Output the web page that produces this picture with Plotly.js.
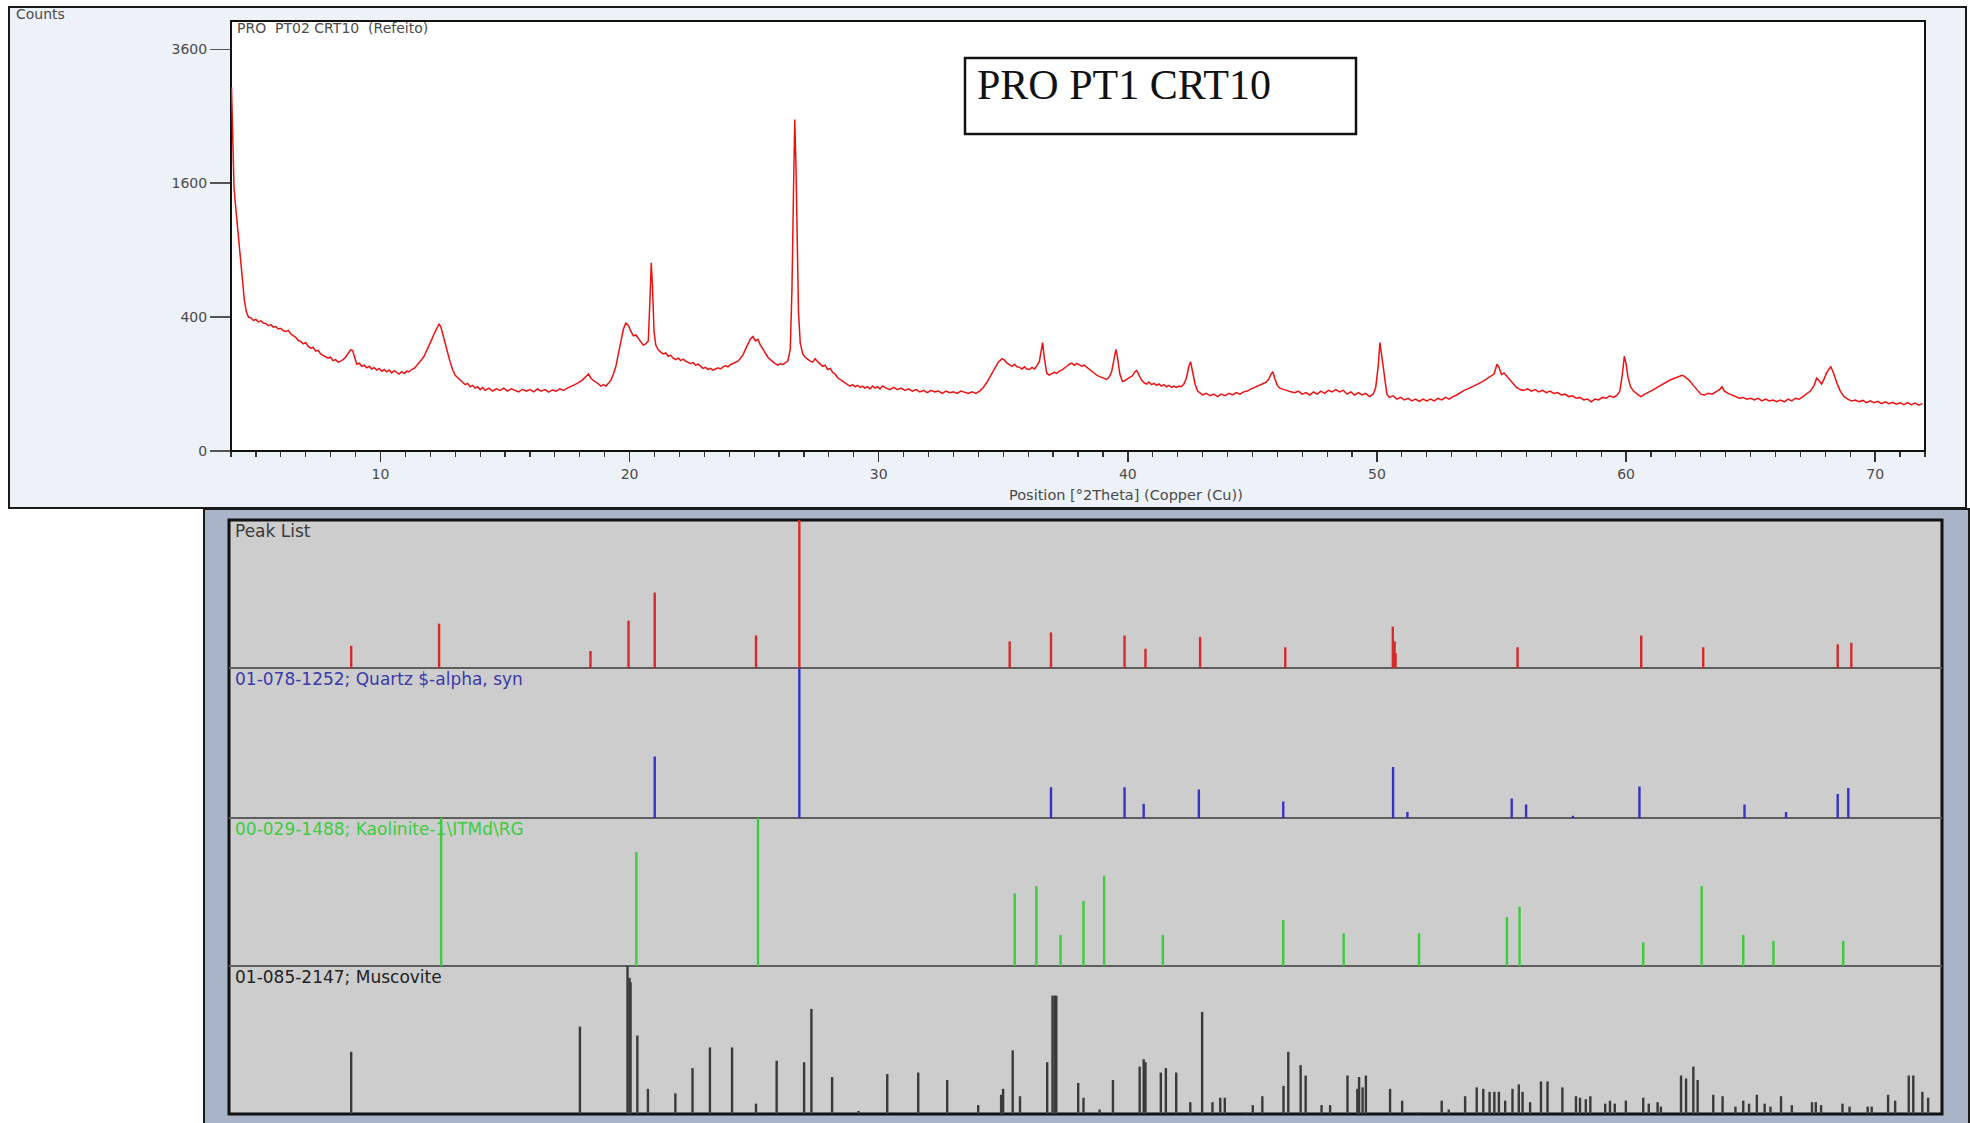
<!DOCTYPE html>
<html>
<head>
<meta charset="utf-8">
<script src="https://cdn.plot.ly/plotly-3.0.1.min.js"></script>
<style>html,body{margin:0;padding:0;background:#fff;}#chart{width:1970px;height:1123px;}</style>
</head>
<body>
<div id="chart"></div>
<script>
// ---------------- DATA ----------------
// Diffractogram: position [°2Theta] and counts
const twoTheta = [4.02,4.05,4.08,4.12,4.18,4.25,4.32,4.40,4.47,4.54,4.62,4.70,4.80,4.90,5.00,5.10,5.20,5.30,5.40,5.50,5.60,5.70,5.80,5.90,6.00,6.10,6.20,6.30,6.40,6.50,6.60,6.70,6.80,6.90,7.00,7.10,7.20,7.30,7.40,7.50,7.60,7.70,7.80,7.90,8.00,8.10,8.20,8.30,8.40,8.50,8.60,8.70,8.80,8.88,8.95,9.05,9.15,9.25,9.35,9.45,9.55,9.65,9.75,9.85,9.95,10.05,10.15,10.25,10.35,10.45,10.55,10.65,10.75,10.85,10.95,11.05,11.15,11.25,11.35,11.45,11.55,11.65,11.75,11.85,11.95,12.05,12.15,12.25,12.35,12.42,12.50,12.60,12.70,12.80,12.90,13.00,13.10,13.20,13.30,13.40,13.50,13.60,13.70,13.80,13.90,14.00,14.10,14.20,14.35,14.50,14.65,14.80,14.95,15.10,15.25,15.40,15.55,15.70,15.85,16.00,16.15,16.30,16.45,16.60,16.75,16.90,17.05,17.20,17.35,17.50,17.65,17.80,17.95,18.10,18.25,18.35,18.45,18.55,18.65,18.75,18.85,18.95,19.05,19.15,19.25,19.35,19.45,19.55,19.65,19.75,19.85,19.95,20.05,20.15,20.25,20.35,20.45,20.55,20.65,20.75,20.82,20.87,20.92,20.98,21.05,21.15,21.25,21.35,21.45,21.55,21.65,21.75,21.85,21.95,22.05,22.15,22.25,22.35,22.45,22.55,22.65,22.75,22.85,22.95,23.05,23.15,23.25,23.35,23.45,23.55,23.65,23.75,23.85,23.95,24.05,24.15,24.25,24.35,24.45,24.55,24.65,24.75,24.85,24.95,25.05,25.15,25.25,25.35,25.45,25.55,25.65,25.75,25.85,25.95,26.05,26.15,26.25,26.35,26.45,26.52,26.58,26.63,26.68,26.72,26.78,26.85,26.95,27.05,27.15,27.25,27.35,27.45,27.55,27.65,27.75,27.85,27.95,28.05,28.15,28.25,28.35,28.45,28.55,28.65,28.75,28.85,28.95,29.05,29.15,29.25,29.35,29.45,29.55,29.65,29.75,29.85,29.95,30.05,30.15,30.30,30.45,30.60,30.75,30.90,31.05,31.20,31.35,31.50,31.65,31.80,31.95,32.10,32.25,32.40,32.55,32.70,32.85,33.00,33.15,33.30,33.45,33.60,33.75,33.90,34.05,34.20,34.35,34.50,34.65,34.80,34.95,35.05,35.15,35.25,35.35,35.45,35.55,35.65,35.75,35.85,35.95,36.05,36.15,36.25,36.35,36.45,36.53,36.58,36.65,36.75,36.85,36.95,37.05,37.15,37.25,37.35,37.45,37.55,37.65,37.75,37.85,37.95,38.05,38.15,38.25,38.35,38.45,38.55,38.65,38.75,38.85,38.95,39.05,39.15,39.25,39.35,39.45,39.52,39.58,39.68,39.78,39.88,39.98,40.08,40.18,40.28,40.36,40.45,40.55,40.65,40.75,40.85,40.95,41.05,41.15,41.25,41.35,41.45,41.55,41.65,41.75,41.85,41.95,42.05,42.15,42.25,42.35,42.45,42.52,42.60,42.70,42.80,42.90,43.00,43.15,43.30,43.45,43.60,43.75,43.90,44.05,44.20,44.35,44.50,44.65,44.80,44.95,45.10,45.25,45.40,45.55,45.65,45.75,45.82,45.90,46.00,46.10,46.25,46.40,46.55,46.70,46.85,47.00,47.15,47.30,47.45,47.60,47.75,47.90,48.05,48.20,48.35,48.50,48.65,48.80,48.95,49.10,49.25,49.40,49.55,49.70,49.85,49.95,50.05,50.12,50.18,50.25,50.32,50.40,50.50,50.65,50.80,50.95,51.10,51.25,51.40,51.55,51.70,51.85,52.00,52.15,52.30,52.45,52.60,52.75,52.90,53.05,53.20,53.35,53.50,53.65,53.80,53.95,54.10,54.25,54.40,54.55,54.70,54.82,54.90,55.00,55.10,55.20,55.30,55.45,55.60,55.75,55.90,56.05,56.20,56.35,56.50,56.65,56.80,56.95,57.10,57.25,57.40,57.55,57.70,57.85,58.00,58.15,58.30,58.45,58.60,58.75,58.90,59.05,59.20,59.35,59.50,59.65,59.75,59.85,59.93,60.00,60.08,60.18,60.30,60.45,60.60,60.75,60.90,61.05,61.20,61.35,61.50,61.65,61.80,61.95,62.10,62.25,62.35,62.45,62.55,62.70,62.85,63.00,63.15,63.30,63.45,63.60,63.75,63.85,63.95,64.10,64.25,64.40,64.55,64.70,64.85,65.00,65.15,65.30,65.45,65.60,65.75,65.90,66.05,66.20,66.35,66.50,66.65,66.80,66.95,67.10,67.25,67.40,67.55,67.65,67.75,67.85,67.95,68.05,68.15,68.22,68.30,68.40,68.50,68.60,68.75,68.90,69.05,69.20,69.35,69.50,69.65,69.80,69.95,70.10,70.25,70.40,70.55,70.70,70.85,71.00,71.15,71.30,71.45,71.60,71.75,71.90];
const counts = [2950,2500,1900,1550,1350,1150,950,760,620,500,430,400,395,380,386,372,378,365,362,350,356,342,345,332,336,322,318,324,305,298,288,272,268,256,262,244,236,240,222,226,210,204,198,192,196,182,186,176,180,186,196,212,228,226,196,168,172,160,164,154,160,150,155,146,152,142,148,140,146,136,144,138,132,140,134,142,140,148,152,162,172,186,200,222,246,275,305,335,358,345,300,256,214,176,146,128,120,110,104,98,102,92,96,88,92,84,90,82,88,80,86,82,88,80,86,82,78,85,80,84,78,86,80,84,77,83,80,86,82,88,92,98,104,112,124,132,118,110,106,100,94,98,94,102,112,132,160,210,270,330,365,352,320,296,300,282,262,250,256,270,520,790,600,320,250,228,218,210,214,200,204,192,186,192,182,188,180,176,170,174,164,168,160,152,156,148,152,146,150,154,150,158,162,158,166,170,176,180,192,206,230,256,280,292,270,278,250,232,210,196,186,176,170,164,170,166,172,180,230,600,1500,2450,1800,900,430,260,210,196,186,180,176,190,178,168,160,164,148,152,138,132,120,114,108,102,98,94,98,92,96,90,94,88,92,86,94,88,92,86,94,88,84,90,84,88,82,86,80,84,78,82,76,82,78,80,74,80,76,78,74,80,76,74,78,74,80,90,106,128,152,176,190,184,172,166,160,168,158,156,150,158,150,148,156,150,162,180,240,262,190,134,128,132,138,134,142,146,152,160,168,172,164,170,166,160,164,156,150,140,134,128,124,120,118,114,122,140,190,230,200,132,108,110,116,120,126,140,144,128,112,104,100,106,98,102,96,100,94,98,92,96,90,94,90,94,92,100,118,160,178,140,100,80,74,70,74,68,72,66,72,68,74,70,76,72,78,80,86,90,96,100,106,114,132,140,118,96,88,84,82,78,76,80,72,76,70,78,72,80,74,82,78,84,78,82,72,78,70,76,70,74,66,72,90,160,262,210,150,120,72,64,68,60,64,58,62,56,60,55,60,56,60,56,62,58,64,60,66,70,76,82,86,92,96,102,108,116,122,132,168,156,130,136,126,116,100,90,84,82,86,80,84,78,82,76,80,74,76,70,72,66,68,62,64,58,60,54,60,58,64,62,68,64,70,80,130,200,170,120,92,80,72,66,72,78,82,88,94,100,108,114,118,124,128,124,118,110,96,82,72,70,74,72,78,84,92,80,74,70,66,62,64,60,62,58,62,56,60,56,58,54,58,54,60,56,62,60,66,72,80,96,118,110,100,116,136,150,158,142,116,96,80,66,60,56,58,54,57,52,56,52,55,50,54,50,53,49,52,48,52,48,51,47,50];
const countTicks = [0, 400, 1600, 3600];
const xTickLabels = [10, 20, 30, 40, 50, 60, 70];

// Peak List (relative intensity, %)
const peakListPos = [8.85,12.34,18.35,19.86,20.90,24.92,26.64,34.99,36.63,39.55,40.38,42.55,45.93,50.20,50.27,50.31,55.15,60.06,62.52,67.86,68.40];
const peakListRel = [15,30,11.5,32,51,22,100,18,24,22,13,21,14,28,18,10,14,22,14,16,17];

// 01-078-1252; Quartz
const quartzPos = [20.90,26.64,36.63,39.55,40.31,42.50,45.85,50.21,50.78,54.92,55.49,57.35,59.99,64.16,65.81,67.86,68.28];
const quartzRel = [41,100,20.5,20.5,9.4,19,11,34,4,13,9,1.5,21,9,4,16,20];

// 00-029-1488; Kaolinite
const kaolinitePos = [12.42,20.17,25.00,35.19,36.05,37.01,37.92,38.74,41.07,45.85,48.25,51.24,54.73,55.23,60.14,62.46,64.11,65.31,68.08];
const kaoliniteRel = [100,77,100,49,54,21,44,61,21,31,22,22,33,40,16,54,21,17,17];

// 01-085-2147; Muscovite
const muscovitePos = [8.85,17.93,19.82,19.90,19.94,20.21,20.63,21.72,22.40,23.09,23.97,24.92,25.74,26.83,27.12,27.94,28.99,30.13,31.36,32.51,33.74,34.65,34.73,35.11,35.40,36.48,36.69,36.78,36.84,37.71,37.92,38.56,39.09,40.15,40.31,40.38,40.99,41.19,41.60,42.16,42.63,43.04,43.35,43.53,44.38,44.64,45.02,45.86,46.05,46.54,46.74,47.37,47.71,48.40,48.79,48.86,49.00,49.13,50.09,50.57,51.19,52.14,52.42,53.07,53.53,53.79,54.04,54.23,54.41,54.66,54.95,55.20,55.35,55.65,56.08,56.34,56.93,57.47,57.63,57.86,58.04,58.63,58.82,59.01,59.45,60.14,60.36,60.71,60.84,61.64,61.84,62.13,62.30,62.92,63.29,63.80,64.11,64.34,64.65,64.96,65.19,65.61,66.04,66.84,66.99,67.20,68.05,68.33,69.05,69.21,69.86,70.14,70.68,70.86,71.22,71.45];
const muscoviteRel = [42,59,100,92,89,53,17,14,31,45,45,7,36,35,71,25,2,27,28,23,6,13,17,43,12,35,80,80,80,21,11,3,23,32,37,35,28,31,28,8,69,8,11,11,1,6,12,19,42,33,26,6,6,26,17,25,18,26,17,9,1,9,3,12,18,17,15,15,15,9,17,20,15,8,22,22,18,12,11,10,12,7,9,7,9,11,7,8,5,26,24,32,23,13,12,5,9,7,13,7,5,12,6,8,8,6,7,5,5,5,13,9,26,26,15,11];

const rowLabels = ["Peak List", "01-078-1252; Quartz $-alpha, syn", "00-029-1488; Kaolinite-1\\ITMd\\RG", "01-085-2147; Muscovite"];

// ---------------- DRAWING ----------------
const W = 1970, H = 1123;
const px = v => v / W;
const py = v => 1 - v / H;

function sticks(pos, rel) {
  const xs = [], ys = [];
  pos.forEach((p, i) => { xs.push(p, p, null); ys.push(0, rel[i], null); });
  return {x: xs, y: ys};
}

const traces = [];
traces.push({
  x: twoTheta, y: counts.map(Math.sqrt), xaxis: 'x', yaxis: 'y',
  type: 'scatter', mode: 'lines', line: {color: '#ec1212', width: 1.5}, hoverinfo: 'skip'
});
const stickSets = [
  [peakListPos, peakListRel, '#d42a2a', 'y2'],
  [quartzPos, quartzRel, '#3434c4', 'y3'],
  [kaolinitePos, kaoliniteRel, '#3ccc3c', 'y4'],
  [muscovitePos, muscoviteRel, '#3a3a3a', 'y5']
];
stickSets.forEach(s => {
  const d = sticks(s[0], s[1]);
  traces.push({x: d.x, y: d.y, xaxis: 'x2', yaxis: s[3], type: 'scatter', mode: 'lines',
    line: {color: s[2], width: 2.4}, hoverinfo: 'skip'});
});

const rowTops = [520, 668, 818, 966, 1114];
const rowColors = ['#3a3a3a', '#3a3aa8', '#3ccc3c', '#222222'];

const shapes = [
  {type: 'rect', xref: 'paper', yref: 'paper', x0: px(9), x1: px(1966), y0: py(508), y1: py(7),
   fillcolor: '#edf1f8', line: {color: '#1a1a1a', width: 2}, layer: 'below'},
  {type: 'rect', xref: 'paper', yref: 'paper', x0: px(231), x1: px(1925), y0: py(451), y1: py(21),
   fillcolor: '#ffffff', line: {color: '#111111', width: 2}, layer: 'below'},
  {type: 'rect', xref: 'paper', yref: 'paper', x0: px(204), x1: px(1969), y0: py(1125), y1: py(509),
   fillcolor: '#a9b4c8', line: {color: '#1a1a1a', width: 2}, layer: 'below'},
  {type: 'rect', xref: 'paper', yref: 'paper', x0: px(229), x1: px(1942), y0: py(1114), y1: py(520),
   fillcolor: '#cdcdcd', line: {color: '#111111', width: 3}, layer: 'below'},
  {type: 'rect', xref: 'paper', yref: 'paper', x0: px(965), x1: px(1356), y0: py(134), y1: py(58),
   fillcolor: '#ffffff', line: {color: '#111111', width: 2.5}, layer: 'above'}
];
[668, 818, 966].forEach(y => shapes.push({type: 'line', xref: 'paper', yref: 'paper',
  x0: px(229), x1: px(1942), y0: py(y), y1: py(y), line: {color: '#5e5e5e', width: 2}, layer: 'below'}));

const smallFont = {family: 'DejaVu Sans, Arial, sans-serif', size: 14, color: '#4a4a4a'};
const annotations = [
  {text: 'Counts', x: px(14), y: py(14), xref: 'paper', yref: 'paper', xanchor: 'left', yanchor: 'middle', showarrow: false, font: smallFont},
  {text: 'PRO  PT02 CRT10  (Refeito)', x: px(235), y: py(28), xref: 'paper', yref: 'paper', xanchor: 'left', yanchor: 'middle', showarrow: false, font: smallFont},
  {text: 'Position [°2Theta] (Copper (Cu))', x: px(1126), y: py(495), xref: 'paper', yref: 'paper', xanchor: 'center', yanchor: 'middle', showarrow: false, font: {family: 'DejaVu Sans, Arial, sans-serif', size: 14.5, color: '#4a4a4a'}},
  {text: 'PRO PT1 CRT10', x: px(975), y: py(85), xref: 'paper', yref: 'paper', xanchor: 'left', yanchor: 'middle', showarrow: false, font: {family: 'Liberation Serif, Times New Roman, serif', size: 42, color: '#111111'}}
];
rowLabels.forEach((t, i) => annotations.push({text: t, x: px(233), y: py(rowTops[i] + 11), xref: 'paper', yref: 'paper',
  xanchor: 'left', yanchor: 'middle', showarrow: false, font: {family: 'DejaVu Sans, Arial, sans-serif', size: 17, color: rowColors[i]}}));

const rowAxis = (i) => ({domain: [py(rowTops[i + 1]), py(rowTops[i])], range: [0, 100], visible: false, fixedrange: true, anchor: 'x2'});

const layout = {
  width: W, height: H, margin: {l: 0, r: 0, t: 0, b: 0},
  paper_bgcolor: '#ffffff', plot_bgcolor: 'rgba(0,0,0,0)', showlegend: false,
  xaxis: {domain: [px(231), px(1925)], range: [4, 72], anchor: 'y', tickmode: 'array', tickvals: xTickLabels,
    ticktext: xTickLabels.map(String), ticks: 'outside', ticklen: 10, tickwidth: 1.5, tickcolor: '#333',
    minor: {tickmode: 'linear', tick0: 0, dtick: 1, ticks: 'outside', ticklen: 5, tickwidth: 1.2, tickcolor: '#333'},
    showgrid: false, zeroline: false, showline: false, tickfont: {family: 'DejaVu Sans, Arial, sans-serif', size: 14, color: '#4a4a4a'}},
  yaxis: {domain: [py(451), py(21)], range: [0, 64.2], anchor: 'x', tickmode: 'array',
    tickvals: countTicks.map(Math.sqrt), ticktext: countTicks.map(String), ticks: 'outside', ticklen: 20, tickwidth: 1.2,
    tickcolor: '#555', showgrid: false, zeroline: false, showline: false,
    tickfont: {family: 'DejaVu Sans, Arial, sans-serif', size: 14, color: '#4a4a4a'}},
  xaxis2: {domain: [px(229), px(1942)], range: [4, 72], anchor: 'y5', visible: false},
  yaxis2: rowAxis(0), yaxis3: rowAxis(1), yaxis4: rowAxis(2), yaxis5: rowAxis(3),
  shapes: shapes, annotations: annotations
};

Plotly.newPlot('chart', traces, layout, {staticPlot: true, displayModeBar: false});
</script>
</body>
</html>
